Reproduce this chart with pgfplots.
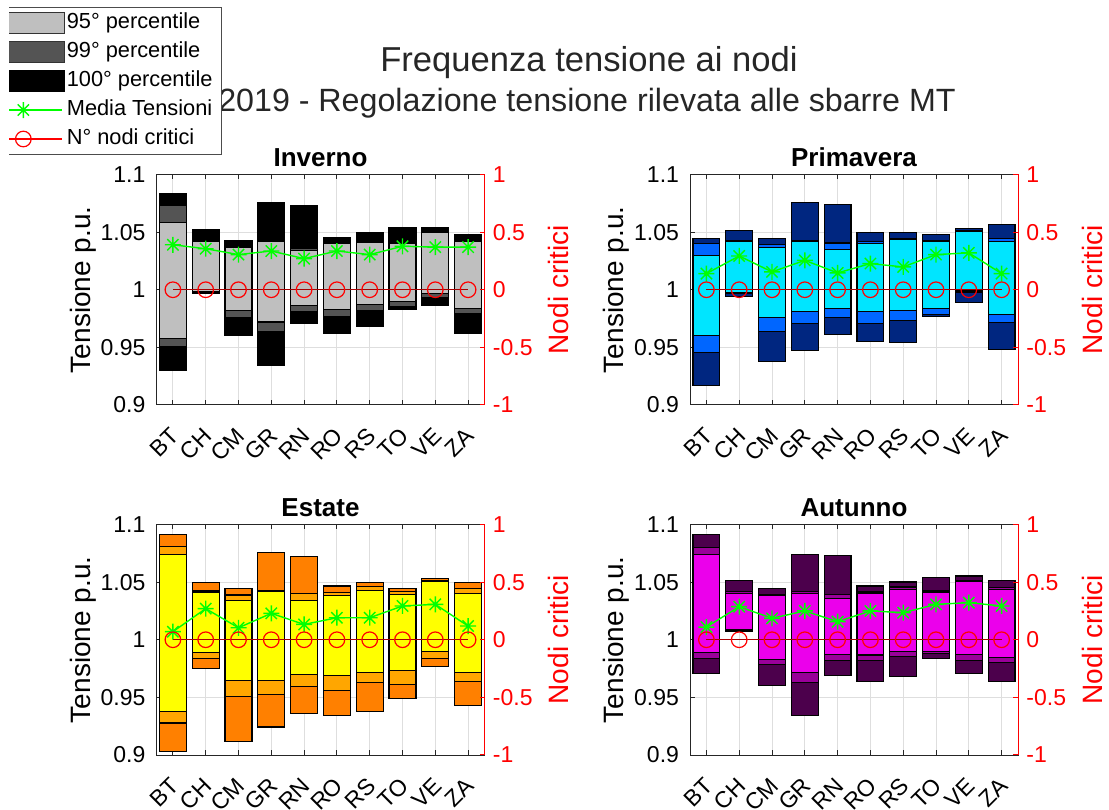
\documentclass[border=0pt]{standalone}
\usepackage{fontspec}
\setmainfont{Liberation Sans}
\usepackage{pgfplots}
\usepackage{pgfplotstable}
\pgfplotsset{compat=1.18}

% season palettes: light = 95th, mid = 99th, dark = 100th percentile band
\definecolor{invL}{rgb}{0.75,0.75,0.75}
\definecolor{invM}{rgb}{0.33,0.33,0.33}
\definecolor{invD}{rgb}{0,0,0}
\definecolor{priL}{rgb}{0,0.9,1}
\definecolor{priM}{rgb}{0,0.4,1}
\definecolor{priD}{rgb}{0,0.15,0.5}
\definecolor{estL}{rgb}{1,1,0}
\definecolor{estM}{rgb}{1,0.65,0}
\definecolor{estD}{rgb}{1,0.5,0}
\definecolor{autL}{rgb}{0.92,0,0.92}
\definecolor{autM}{rgb}{0.6,0,0.6}
\definecolor{autD}{rgb}{0.3,0,0.3}
\definecolor{mediaG}{rgb}{0,1,0}
\definecolor{nodiR}{rgb}{1,0,0}
\definecolor{nodiLine}{rgb}{0.65,0,0}

% eight-armed star marker
\pgfdeclareplotmark{mstar}{%
  \pgfpathmoveto{\pgfqpoint{-\pgfplotmarksize}{0pt}}%
  \pgfpathlineto{\pgfqpoint{\pgfplotmarksize}{0pt}}%
  \pgfpathmoveto{\pgfqpoint{0pt}{-\pgfplotmarksize}}%
  \pgfpathlineto{\pgfqpoint{0pt}{\pgfplotmarksize}}%
  \pgfpathmoveto{\pgfqpoint{-.7071\pgfplotmarksize}{-.7071\pgfplotmarksize}}%
  \pgfpathlineto{\pgfqpoint{.7071\pgfplotmarksize}{.7071\pgfplotmarksize}}%
  \pgfpathmoveto{\pgfqpoint{-.7071\pgfplotmarksize}{.7071\pgfplotmarksize}}%
  \pgfpathlineto{\pgfqpoint{.7071\pgfplotmarksize}{-.7071\pgfplotmarksize}}%
  \pgfusepathqstroke}

% x: BT CH CM GR RN RO RS TO VE ZA
\pgfplotstableread{
x  min    l99    l95    h95    h99    max    mean   nodes
1  0.930  0.951  0.958  1.058  1.073  1.083  1.039  0
2  0.9965 0.997  0.998  1.042  1.043  1.0518 1.0356 0
3  0.9606 0.976  0.9823 1.0365 1.038  1.043  1.0305 0
4  0.9346 0.9635 0.972  1.042  1.043  1.076  1.0336 0
5  0.9707 0.981  0.986  1.034  1.036  1.0726 1.027  0
6  0.962  0.977  0.983  1.040  1.041  1.0449 1.0336 0
7  0.9678 0.982  0.9874 1.0415 1.043  1.050  1.0305 0
8  0.983  0.9855 0.9895 1.0405 1.041  1.0535 1.0377 0
9  0.9866 0.993  0.9967 1.050  1.051  1.0535 1.037  0
10 0.962  0.979  0.984  1.042  1.043  1.048  1.037  0
}\invtab
\pgfplotstableread{
x  min    l99    l95    h95    h99    max    mean   nodes
1  0.917  0.9455 0.960  1.0295 1.040  1.0446 1.014  0
2  0.9938 0.997  0.9975 1.042  1.0425 1.0515 1.0293 0
3  0.938  0.9635 0.976  1.0365 1.039  1.0446 1.0155 0
4  0.947  0.9706 0.981  1.042  1.043  1.076  1.0255 0
5  0.961  0.9756 0.984  1.0348 1.0405 1.074  1.0146 0
6  0.9554 0.9706 0.981  1.040  1.042  1.050  1.0227 0
7  0.954  0.9736 0.982  1.0434 1.044  1.050  1.0198 0
8  0.9765 0.9787 0.984  1.042  1.043  1.048  1.0305 0
9  0.9886 0.998  0.999  1.0506 1.051  1.053  1.032  0
10 0.9484 0.9715 0.9788 1.042  1.0445 1.0567 1.014  0
}\pritab
\pgfplotstableread{
x  min    l99    l95    h95    h99    max    mean   nodes
1  0.9032 0.9278 0.938  1.0739 1.0806 1.091  1.007  0
2  0.9748 0.9838 0.989  1.0409 1.0423 1.0496 1.027  0
3  0.9119 0.951  0.9643 1.0342 1.0388 1.0443 1.0104 0
4  0.9243 0.9525 0.9643 1.0417 1.0429 1.0757 1.0229 0
5  0.9359 0.9597 0.9696 1.0339 1.040  1.0722 1.0133 0
6  0.9345 0.9559 0.969  1.0386 1.0409 1.0467 1.0191 0
7  0.938  0.9626 0.9713 1.0429 1.0464 1.0496 1.0191 0
8  0.9487 0.9612 0.9733 1.0394 1.0417 1.0443 1.0293 0
9  0.9765 0.9838 0.9901 1.0504 1.0516 1.0533 1.0307 0
10 0.9432 0.9641 0.9713 1.0403 1.0445 1.0496 1.0119 0
}\esttab
\pgfplotstableread{
x  min    l99    l95    h95    h99    max    mean   nodes
1  0.971  0.9835 0.9887 1.0742 1.0797 1.0916 1.011  0
2  1.0075 1.008  1.009  1.0403 1.0417 1.0516 1.0287 0
3  0.9606 0.9783 0.9832 1.0383 1.0394 1.0446 1.0186 0
4  0.9345 0.9632 0.9713 1.0403 1.0417 1.0742 1.025  0
5  0.9693 0.9823 0.9872 1.0357 1.0394 1.0728 1.0157 0
6  0.9641 0.9823 0.9867 1.0403 1.0414 1.0467 1.025  0
7  0.9678 0.9852 0.9901 1.0438 1.0458 1.0501 1.0235 0
8  0.9835 0.9878 0.9896 1.0414 1.0423 1.0539 1.0307 0
9  0.971  0.9823 0.9872 1.0504 1.051  1.0554 1.0322 0
10 0.9641 0.9806 0.9849 1.0438 1.0452 1.0516 1.0293 0
}\auttab

\pgfplotsset{
  panelbase/.style={anchor=south west, scale only axis, width=164pt,
    height=115.25pt, xmin=0.5, xmax=10.5},
  patchleg/.style={legend image code/.code={%
    \draw[##1] (0pt,-5.25pt) rectangle (40pt,5.25pt);}},
  lineleg/.style={legend image code/.code={%
    \draw[##1, mark=none] (0pt,0pt) -- (39pt,0pt);
    \draw[##1, only marks] plot coordinates {(19.5pt,0pt)};}},
}

% one season: bands on the left scale, mean voltage, critical nodes on the right scale
% #1,#2 position  #3 title  #4 table  #5 light  #6 mid  #7 dark
\newcommand\panel[7]{%
\begin{axis}[panelbase, at={(#1,#2)},
  ybar stacked, bar width=0.82,
  ymin=0.9, ymax=1.1,
  ytick={0.9,0.95,1,1.05,1.1}, yticklabels={0.9,0.95,1,1.05,1.1},
  ytick pos=left,
  xtick={1,...,10}, xticklabels={BT,CH,CM,GR,RN,RO,RS,TO,VE,ZA},
  tick align=inside, major tick length=2.5pt,
  tick style={black!85, line width=0.5pt},
  axis line style={black!85, line width=0.5pt},
  grid=major, grid style={black!13, line width=0.5pt},
  tick label style={font=\fontsize{11.5}{13}\selectfont},
  yticklabel style={xshift=-2pt},
  xticklabel style={yshift=-11pt, xshift=3.5pt, rotate=45, anchor=east},
  title={#3},
  title style={at={(axis description cs:0.5,1)}, anchor=center, yshift=2.5pt,
    font=\bfseries\fontsize{13}{15}\selectfont},
  every axis y label/.style={at={(axis description cs:-0.2244,0.5)},
    rotate=90, anchor=center, font=\fontsize{14}{16}\selectfont},
  ylabel={Tensione p.u.},
]
\addplot[draw=none, fill=none] table[x=x, y=min]{#4};
\addplot[draw=black, line width=0.6pt, fill=#7] table[x=x, y expr=\thisrow{l99}-\thisrow{min}]{#4};
\addplot[draw=black, line width=0.6pt, fill=#6] table[x=x, y expr=\thisrow{l95}-\thisrow{l99}]{#4};
\addplot[draw=black, line width=0.6pt, fill=#5] table[x=x, y expr=\thisrow{h95}-\thisrow{l95}]{#4};
\addplot[draw=black, line width=0.6pt, fill=#6] table[x=x, y expr=\thisrow{h99}-\thisrow{h95}]{#4};
\addplot[draw=black, line width=0.6pt, fill=#7] table[x=x, y expr=\thisrow{max}-\thisrow{h99}]{#4};
\end{axis}
\begin{axis}[panelbase, at={(#1,#2)}, hide axis, ymin=0.9, ymax=1.1]
\addplot[mediaG, line width=0.7pt, mark=mstar, mark size=4pt] table[x=x, y=mean]{#4};
\end{axis}
\begin{axis}[panelbase, at={(#1,#2)}, axis x line=none, axis y line*=right,
  ymin=-1, ymax=1,
  ytick={-1,-0.5,0,0.5,1}, yticklabels={-1,-0.5,0,0.5,1},
  tick align=inside, major tick length=2.5pt,
  y axis line style={nodiR, line width=0.5pt},
  ytick style={nodiR, line width=0.5pt},
  yticklabel style={nodiR, font=\fontsize{11.5}{13}\selectfont, xshift=0.7pt},
  every axis y label/.style={at={(axis description cs:1.226,0.5)},
    rotate=90, anchor=center, text=nodiR, font=\fontsize{14}{16}\selectfont},
  ylabel={Nodi critici},
]
\addplot[nodiLine, line width=0.6pt, mark=o, mark size=3.9pt,
  mark options={nodiR, line width=0.6pt}] table[x=x, y=nodes]{#4};
\end{axis}}

\begin{document}
\begin{tikzpicture}
\useasboundingbox (0pt,0pt) rectangle (554.5pt,404.5pt);

\panel{78.25pt}{202pt}{Inverno}{\invtab}{invL}{invM}{invD}
\panel{345pt}{202pt}{Primavera}{\pritab}{priL}{priM}{priD}
\panel{78.25pt}{27pt}{Estate}{\esttab}{estL}{estM}{estD}
\panel{345pt}{27pt}{Autunno}{\auttab}{autL}{autM}{autD}

\node[font=\fontsize{17.3}{19}\selectfont, anchor=base, text=black!85]
  at (294.5pt,368.65pt) {Frequenza tensione ai nodi};
\node[font=\fontsize{16.1}{19}\selectfont, anchor=base, text=black!85]
  at (293.5pt,348.65pt) {2019 - Regolazione tensione rilevata alle sbarre MT};

% legend, cut at the left edge of the figure
\begin{scope}
\clip (4.5pt,300pt) rectangle (200pt,420pt);
\begin{axis}[at={(0pt,0pt)}, anchor=south west, scale only axis,
  width=554.5pt, height=404.5pt, hide axis,
  xmin=0, xmax=1, ymin=0, ymax=1,
  legend cell align=left,
  legend style={at={(axis description cs:0.2002,0.8090)}, anchor=south east,
    draw=black!70, line width=0.5pt, fill=white,
    inner xsep=3.5pt, inner ysep=1.25pt, row sep=2pt,
    font=\fontsize{10.9}{12}\selectfont,
    nodes={inner sep=1pt, text height=8pt, text depth=2.5pt}},
]
\addlegendimage{patchleg, draw=black!80, fill=invL}
\addlegendentry{95° percentile}
\addlegendimage{patchleg, draw=black!80, fill=invM}
\addlegendentry{99° percentile}
\addlegendimage{patchleg, draw=black, fill=invD}
\addlegendentry{100° percentile}
\addlegendimage{lineleg, mediaG, line width=0.7pt, mark=mstar, mark size=4pt}
\addlegendentry{Media Tensioni}
\addlegendimage{lineleg, nodiR, line width=0.6pt, mark=o, mark size=3.9pt}
\addlegendentry{N° nodi critici}
\end{axis}
\end{scope}
\end{tikzpicture}
\end{document}
